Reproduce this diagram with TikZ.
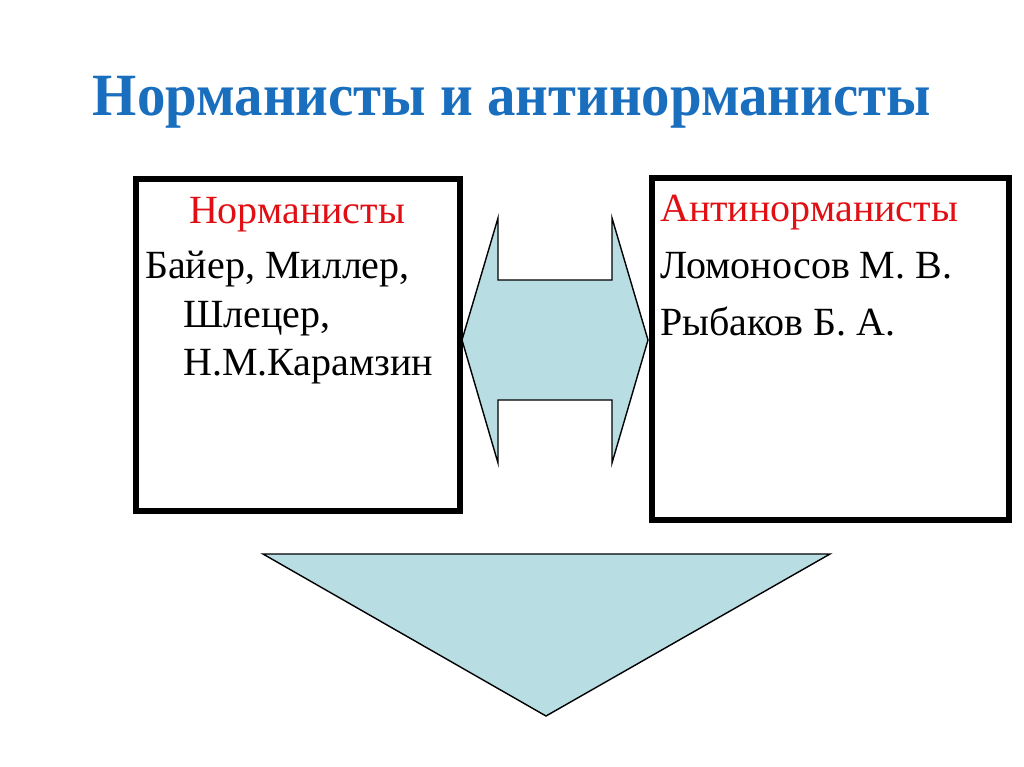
\documentclass[tikz,border=0pt]{standalone}
\usepackage{fontspec}
\setmainfont{Liberation Serif}
\usepackage{graphicx}
\definecolor{titleblue}{RGB}{25,110,190}
\definecolor{headred}{RGB}{225,15,20}
\definecolor{lightcyan}{RGB}{184,222,227}
\begin{document}
\begin{tikzpicture}[x=1pt,y=-1pt,
  box/.style={draw=black,line width=6pt,fill=white,inner sep=0pt},
  txt/.style={anchor=base west,inner sep=0pt,font=\fontsize{40}{44}\selectfont},
  head/.style={txt,text=headred},
  shapeline/.style={draw=black,line width=1.4pt,fill=lightcyan,line join=miter}]
\useasboundingbox (0,0) rectangle (1024,767);
\fill[white] (0,0) rectangle (1024,767);
% title
\node[anchor=base,inner sep=0pt,text=titleblue,font=\fontsize{60}{64}\selectfont\bfseries] (title) at (512,116)
  {\resizebox{838pt}{\height}{Норманисты и антинорманисты}};
% boxes
\node[box,minimum width=324pt,minimum height=332pt] (left) at (297.5,345) {};
\node[box,minimum width=357pt,minimum height=342pt] (right) at (830.5,349) {};
% left texts
\node[head,anchor=base] (lh) at (297,224) {Норманисты};
\node[txt] (l1) at (145,278) {Байер, Миллер,};
\node[txt] (l2) at (183,327) {Шлецер,};
\node[txt] (l3) at (183,375) {Н.М.Карамзин};
% right texts
\node[head] (rh) at (660,222) {Антинорманисты};
\node[txt] (r1) at (660,278) {Ломоносов М. В.};
\node[txt] (r2) at (660,335) {Рыбаков Б. А.};
% double arrow
\coordinate (da1) at (462,340);
\coordinate (da2) at (498,218);
\coordinate (da3) at (498,280);
\coordinate (da4) at (612,280);
\coordinate (da5) at (612,218);
\coordinate (da6) at (648,340);
\coordinate (da7) at (612,463);
\coordinate (da8) at (612,400);
\coordinate (da9) at (498,400);
\coordinate (da10) at (498,463);
\path[shapeline] (da1) -- (da2) -- (da3) -- (da4) -- (da5) -- (da6) -- (da7) -- (da8) -- (da9) -- (da10) -- cycle;
% triangle
\coordinate (t1) at (263,554);
\coordinate (t2) at (830,554);
\coordinate (t3) at (546,716);
\path[shapeline] (t1) -- (t2) -- (t3) -- cycle;
\end{tikzpicture}
\end{document}
